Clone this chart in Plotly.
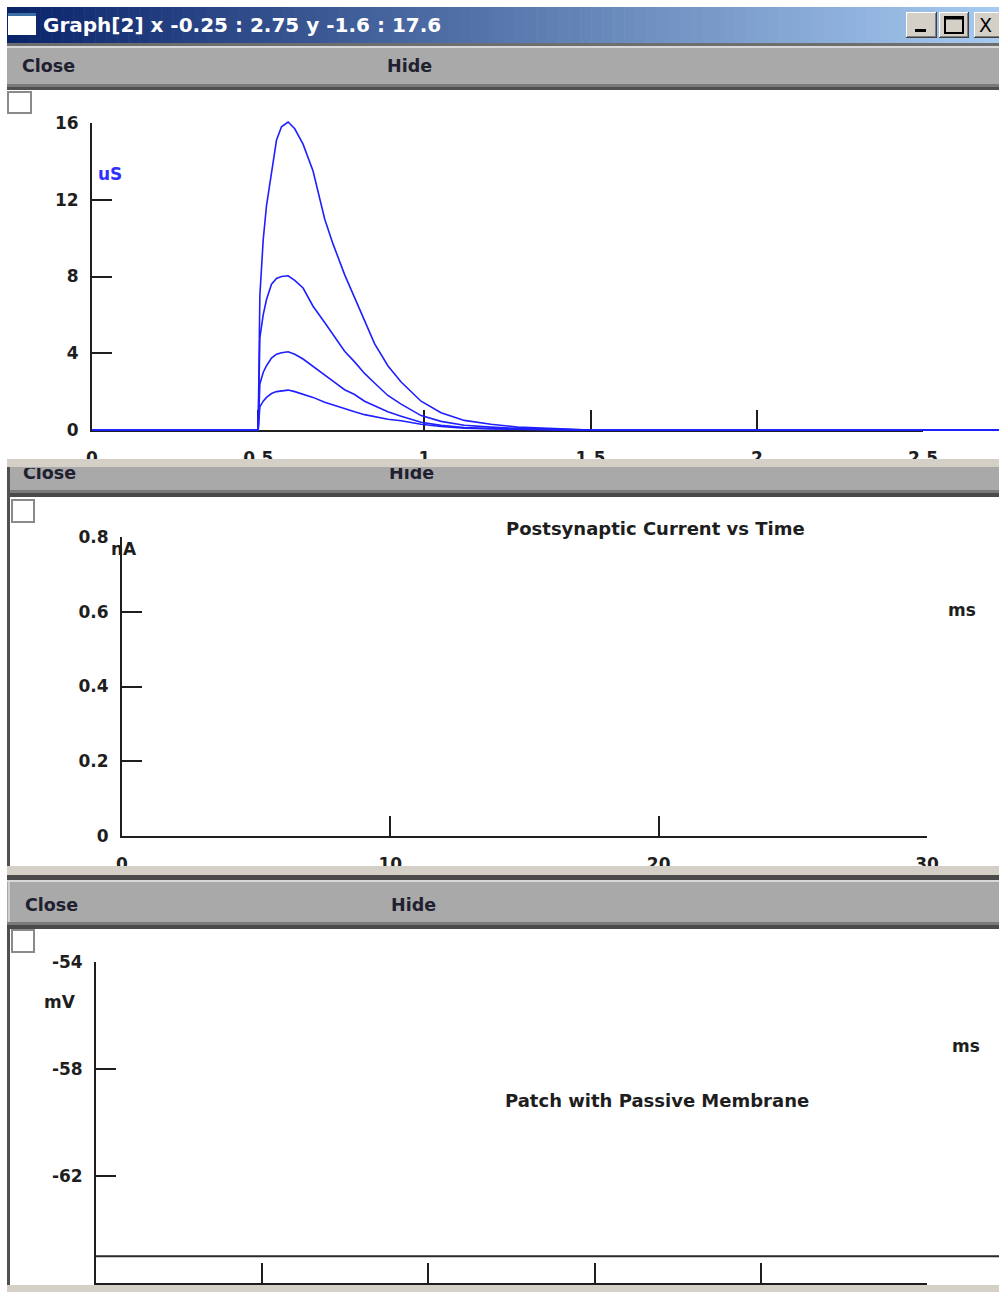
import plotly.graph_objects as go

W, H = 999, 1292

# ---------------- data ----------------
t_syn = [0, 0.5, 0.505, 0.515, 0.525, 0.54, 0.555, 0.57, 0.59, 0.61, 0.635, 0.665, 0.70, 0.725,
         0.76, 0.79, 0.82, 0.85, 0.89, 0.93, 0.99, 1.05, 1.12, 1.2, 1.28, 1.4, 1.5, 3.0]
g_16 = [0, 0, 7.0, 9.9, 11.7, 13.5, 15.1, 15.8, 16.05, 15.7, 14.9, 13.5, 11.0, 9.7,
        8.1, 6.9, 5.7, 4.5, 3.35, 2.5, 1.5, 0.9, 0.5, 0.3, 0.15, 0.05, 0, 0]
g_8 = [0, 0, 4.8, 6.0, 6.8, 7.6, 7.9, 8.0, 8.04, 7.8, 7.4, 6.45, 5.6, 4.95,
       4.1, 3.55, 2.95, 2.45, 1.8, 1.35, 0.75, 0.45, 0.25, 0.15, 0.08, 0.03, 0, 0]
g_4 = [0, 0, 2.4, 3.0, 3.35, 3.75, 3.95, 4.03, 4.08, 3.95, 3.7, 3.3, 2.85, 2.55,
       2.1, 1.85, 1.5, 1.25, 0.95, 0.72, 0.4, 0.24, 0.13, 0.08, 0.04, 0.02, 0, 0]
g_2 = [0, 0, 1.2, 1.5, 1.7, 1.9, 2.0, 2.05, 2.08, 2.0, 1.88, 1.7, 1.45, 1.3,
       1.1, 0.95, 0.8, 0.68, 0.56, 0.48, 0.3, 0.18, 0.1, 0.06, 0.03, 0.01, 0, 0]

t_v = [0, 6]
v_trace = [-65, -65]

top_xticks = [0, 0.5, 1, 1.5, 2, 2.5]
top_xlabels = ["0", "0.5", "1", "1.5", "2", "2.5"]
top_yticks = [0, 4, 8, 12, 16]
mid_xticks = [0, 10, 20, 30]
mid_yticks = [0, 0.2, 0.4, 0.6, 0.8]
mid_ylabels = ["0", "0.2", "0.4", "0.6", "0.8"]
bot_xticks = [0, 1, 2, 3, 4, 5]
bot_yticks = [-66, -62, -58, -54]

window_title = "Graph[2] x -0.25 : 2.75 y -1.6 : 17.6"
mid_title = "Postsynaptic Current vs Time"
bot_title = "Patch with Passive Membrane"

# ---------------- helpers ----------------
def PX(x):
    return x / W

def PY(y):
    return 1 - y / H

def lin(p, p0, v0, p1, v1):
    return v0 + (p - p0) * (v1 - v0) / (p1 - p0)

FONT = "DejaVu Sans"
INK = "#1e1e1e"
MENU = "#a9a9a9"
LIGHT = "#d4d0c8"

def frame_x(x0, x1, rng, tickvals, ticktext, anchor, labels=True):
    return dict(domain=[PX(x0), PX(x1)], range=rng, anchor=anchor, showline=True,
                linecolor=INK, linewidth=2, ticks="inside", ticklen=20, tickwidth=2,
                tickcolor=INK, tickvals=tickvals, ticktext=ticktext, showgrid=False,
                zeroline=False, fixedrange=True, ticklabelstandoff=12,
                showticklabels=labels,
                tickfont=dict(family=FONT, size=17, color=INK, weight="bold"))

def frame_y(y0, y1, rng, tickvals, ticktext, anchor):
    return dict(domain=[PY(y1), PY(y0)], range=rng, anchor=anchor, showline=True,
                linecolor=INK, linewidth=2, ticks="inside", ticklen=20, tickwidth=2,
                tickcolor=INK, tickvals=tickvals, ticktext=ticktext, showgrid=False,
                zeroline=False, fixedrange=True, ticklabelstandoff=8,
                tickfont=dict(family=FONT, size=17, color=INK, weight="bold"))

def hidden(domain, rng, anchor):
    return dict(domain=domain, range=rng, anchor=anchor, visible=False, fixedrange=True,
                showgrid=False, zeroline=False)

fig = go.Figure()

# ---------------- axes ----------------
layout_axes = {}
# panel 1 frame (x / y): 0..2.5 at px 92..923 ; 0..16 at px 430..123
layout_axes["xaxis"] = frame_x(92, 923, [0, 2.5], top_xticks, top_xlabels, "y")
layout_axes["yaxis"] = frame_y(123, 430, [0, 16], top_yticks, [str(v) for v in top_yticks], "x")
# panel 1 data (x2 / y2)
layout_axes["xaxis2"] = hidden([PX(9), PX(999)],
                               [lin(9, 92, 0, 923, 2.5), lin(999, 92, 0, 923, 2.5)], "y2")
layout_axes["yaxis2"] = hidden([PY(459), PY(90)],
                               [lin(459, 430, 0, 123, 16), lin(90, 430, 0, 123, 16)], "x2")
# panel 2 frame (x3 / y3)
layout_axes["xaxis3"] = frame_x(122, 927, [0, 30], mid_xticks, [str(v) for v in mid_xticks], "y3")
layout_axes["yaxis3"] = frame_y(537, 836, [0, 0.8], mid_yticks, mid_ylabels, "x3")
# panel 3 frame (x4 / y4)
layout_axes["xaxis4"] = frame_x(96, 927, [0, 5], bot_xticks, [str(v) for v in bot_xticks], "y4",
                                labels=False)
layout_axes["yaxis4"] = frame_y(962, 1283, [-66, -54], bot_yticks, [str(v) for v in bot_yticks], "x4")
# panel 3 data (x5 / y5)
layout_axes["xaxis5"] = hidden([PX(10), PX(999)],
                               [lin(10, 96, 0, 927, 5), lin(999, 96, 0, 927, 5)], "y5")
layout_axes["yaxis5"] = hidden([PY(1285), PY(929)],
                               [lin(1285, 1283, -66, 962, -54), lin(929, 1283, -66, 962, -54)], "x5")
# clipped menu text of window 2 (x6 / y6), pixel coordinates
layout_axes["xaxis6"] = hidden([0, 1], [0, W], "y6")
layout_axes["yaxis6"] = hidden([PY(490), PY(468)], [490, 468], "x6")

# ---------------- traces ----------------
for xa, ya in [("x", "y"), ("x3", "y3"), ("x4", "y4")]:
    fig.add_trace(go.Scatter(x=[None], y=[None], xaxis=xa, yaxis=ya, showlegend=False,
                             hoverinfo="skip"))

for g in [g_16, g_8, g_4, g_2]:
    fig.add_trace(go.Scatter(x=t_syn, y=g, xaxis="x2", yaxis="y2", mode="lines",
                             line=dict(color="#1f1fff", width=1.6), showlegend=False,
                             hoverinfo="skip"))

fig.add_trace(go.Scatter(x=t_v, y=v_trace, xaxis="x5", yaxis="y5", mode="lines",
                         line=dict(color="#2a2a2a", width=2), showlegend=False,
                         hoverinfo="skip"))

fig.add_trace(go.Scatter(x=[23, 389], y=[474.5, 474.5], xaxis="x6", yaxis="y6",
                         mode="text", text=["Close", "Hide"], textposition="middle right",
                         textfont=dict(family=FONT, size=17.5, color="#202030", weight="bold"),
                         showlegend=False, hoverinfo="skip", cliponaxis=True))

# ---------------- window chrome ----------------
shapes = []

def rect(x0, y0, x1, y1, fill, layer="above", line=None):
    d = dict(type="rect", xref="paper", yref="paper", x0=PX(x0), x1=PX(x1),
             y0=PY(y1), y1=PY(y0), fillcolor=fill, layer=layer,
             line=dict(width=0) if line is None else line)
    shapes.append(d)

def hline(x0, x1, y, color, width=1, layer="above"):
    shapes.append(dict(type="line", xref="paper", yref="paper", x0=PX(x0), x1=PX(x1),
                       y0=PY(y), y1=PY(y), line=dict(color=color, width=width), layer=layer))

def vline(x, y0, y1, color, width=1, layer="above"):
    shapes.append(dict(type="line", xref="paper", yref="paper", x0=PX(x), x1=PX(x),
                       y0=PY(y0), y1=PY(y1), line=dict(color=color, width=width), layer=layer))

# canvases (below everything)
rect(7, 88, 1000, 460, "white", layer="below")
rect(7, 496, 1000, 867, "white", layer="below")
rect(7, 928, 1000, 1286, "white", layer="below")

# window 1 title bar gradient
c0 = (10, 36, 106)
c1 = (166, 202, 240)
n = 90
x_start, x_end = 7, 999
for i in range(n):
    a = i / (n - 1)
    col = "rgb(%d,%d,%d)" % tuple(round(c0[k] + (c1[k] - c0[k]) * a) for k in range(3))
    xa = x_start + (x_end - x_start) * i / n
    xb = x_start + (x_end - x_start) * (i + 1) / n + 0.6
    rect(xa, 7, xb, 43, col, layer="below")
# icon
rect(8, 13, 36, 35, "white", layer="below")
rect(8, 13, 36, 16, "#3a6ea5", layer="below")
# buttons
for bx0, bx1 in [(906, 937), (939, 969), (974, 1006)]:
    rect(bx0, 12, bx1, 38, LIGHT, layer="below")
    hline(bx0, bx1, 12.5, "white", 1, layer="below")
    vline(bx0 + 0.5, 12, 38, "white", 1, layer="below")
    hline(bx0, bx1, 37.5, "#404040", 1, layer="below")
    vline(bx1 - 0.5, 12, 38, "#404040", 1, layer="below")
    hline(bx0 + 1, bx1 - 1, 36.5, "#808080", 1, layer="below")
    vline(bx1 - 1.5, 13, 37, "#808080", 1, layer="below")
rect(915, 29, 926, 32, "black", layer="below")
rect(945, 17, 963, 33, "rgba(0,0,0,0)", layer="below", line=dict(color="black", width=2))
hline(945, 963, 18.5, "black", 2, layer="below")

# window 1 menu bar
rect(7, 43, 1000, 46, "#6e6e6e", layer="below")
rect(7, 46, 1000, 48, "#d8d8d8", layer="below")
rect(7, 48, 1000, 84, MENU, layer="below")
rect(7, 84, 1000, 87, "#7a7a7a", layer="below")
rect(7, 87, 1000, 90, "#505050", layer="below")

# window 2 (top strip above everything of panel 1)
rect(7, 459, 1000, 467, LIGHT, layer="above")
rect(7, 467, 1000, 490, MENU, layer="below")
rect(7, 490, 1000, 493, "#7a7a7a", layer="below")
rect(7, 493, 1000, 497, "#4a4a4a", layer="below")
rect(7, 467, 10, 867, "#505050", layer="below")

# window 3
rect(7, 866, 1000, 875, LIGHT, layer="above")
rect(7, 875, 1000, 880, "#4a4a4a", layer="above")
rect(7, 880, 1000, 882, "#d8d8d8", layer="above")
rect(7, 882, 1000, 922, MENU, layer="above")
rect(8, 882, 10, 922, "#cfcfcf", layer="above")
rect(7, 922, 1000, 925, "#7a7a7a", layer="above")
rect(7, 925, 1000, 929, "#4a4a4a", layer="above")
rect(7, 929, 10, 1286, "#505050", layer="below")
rect(7, 1285, 1000, 1292, LIGHT, layer="above")

# check boxes
for cx0, cy0, cx1, cy1 in [(8, 92, 31, 113), (12, 500, 34, 522), (12, 930, 34, 952)]:
    rect(cx0, cy0, cx1, cy1, "white", layer="above", line=dict(color="#8a8a8a", width=2))

# ---------------- texts ----------------
ann = []

def text(x, y, s, size=17, color=INK, anchor="left", bold=True, family=FONT):
    ann.append(dict(xref="paper", yref="paper", x=PX(x), y=PY(y), text=s, showarrow=False,
                    xanchor=anchor, yanchor="middle",
                    font=dict(family=family, size=size, color=color,
                              weight="bold" if bold else "normal")))

text(41, 25, window_title, size=20, color="white")
ann.append(dict(xref="paper", yref="paper", x=PX(985), y=PY(25), text="X", showarrow=False,
                xanchor="center", yanchor="middle",
                font=dict(family="DejaVu Sans", size=19, color="black")))
text(20, 66, "Close", size=17.5, color="#202030")
text(385, 66, "Hide", size=17.5, color="#202030")
text(23, 905, "Close", size=17.5, color="#202030")
text(389, 905, "Hide", size=17.5, color="#202030")

text(110, 174, "uS", size=17, color="#3030ff", anchor="center")
text(124, 549, "nA", size=17, anchor="center")
text(962, 610, "ms", size=17, anchor="center")
text(655, 528, mid_title, size=18, anchor="center")
text(60, 1002, "mV", size=17, anchor="center")
text(966, 1046, "ms", size=17, anchor="center")
text(657, 1100, bot_title, size=18, anchor="center")

fig.update_layout(
    width=W, height=H, margin=dict(l=0, r=0, t=0, b=0, autoexpand=False),
    paper_bgcolor="white", plot_bgcolor="rgba(0,0,0,0)",
    showlegend=False, shapes=shapes, annotations=ann, **layout_axes,
)

fig.write_html("out.html", config={"displayModeBar": False},
               post_script="document.body.style.margin='0';document.body.style.overflow='hidden';")
